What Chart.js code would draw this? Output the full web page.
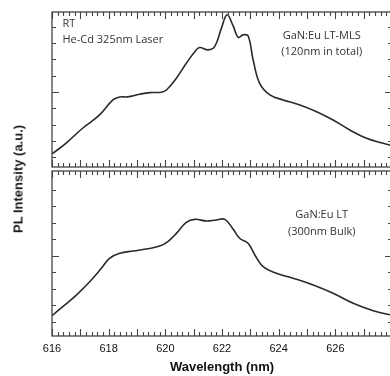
<!DOCTYPE html>
<html>
<head>
<meta charset="utf-8">
<script src="https://cdn.jsdelivr.net/npm/chart.js@4.4.1/dist/chart.umd.min.js"></script>
<style>
  html, body { margin: 0; padding: 0; background: #fff; overflow: hidden; }
  #wrap { position: relative; width: 400px; height: 376px; }
  #topChart { position: absolute; left: 0; top: 0; }
  #bulkChart { position: absolute; left: 0; top: 169px; }
  #ytitle {
    position: absolute; left: 18px; top: 179px;
    transform: translate(-50%, -50%) rotate(-90deg);
    font: bold 13px "Liberation Sans", Arial, sans-serif; color: #1a1a1a; white-space: nowrap;
  }
</style>
</head>
<body>
<div id="wrap">
  <canvas id="topChart" width="400" height="169"></canvas>
  <canvas id="bulkChart" width="400" height="207"></canvas>
  <div id="ytitle">PL Intensity (a.u.)</div>
</div>
<script>
// wavelength (nm) / PL intensity (a.u.)
const mlsWavelength = [616.0, 616.5, 617.09, 617.68, 618.15, 618.39, 618.67, 619.09, 619.45, 619.86, 620.04,
  620.39, 620.74, 621.04, 621.21, 621.51, 621.74, 621.98, 622.18, 622.39, 622.57, 622.74, 622.92,
  623.1, 623.33, 623.69, 624.16, 624.75, 625.34, 625.92, 626.51, 627.1, 627.69, 628.0];
const mlsIntensity = [0.80, 1.47, 2.39, 3.19, 4.11, 4.29, 4.30, 4.46, 4.56, 4.58, 4.72,
  5.44, 6.36, 7.07, 7.32, 7.18, 7.38, 8.51, 9.33, 8.66, 7.94, 8.10, 8.04,
  6.56, 5.13, 4.42, 4.11, 3.80, 3.39, 2.88, 2.27, 1.76, 1.45, 1.32];

const bulkWavelength = [616.0, 616.38, 616.86, 617.33, 617.74, 618.03, 618.39, 618.86, 619.33, 619.8, 620.09,
  620.39, 620.74, 621.04, 621.45, 621.8, 622.1, 622.39, 622.63, 622.92, 623.16, 623.45, 623.92,
  624.51, 625.22, 625.92, 626.63, 627.34, 628.0];
const bulkIntensity = [1.23, 1.78, 2.48, 3.29, 4.10, 4.71, 5.01, 5.15, 5.27, 5.45, 5.72,
  6.22, 6.89, 7.07, 6.97, 7.03, 7.07, 6.48, 5.91, 5.62, 4.91, 4.20, 3.80,
  3.50, 3.09, 2.59, 1.98, 1.53, 1.25];

const xLabels = [616, 618, 620, 622, 624, 626];
const mlsTicks = [0.6, 1.6, 2.6, 3.6, 4.6, 5.6, 6.6, 7.6, 8.6];
const bulkTicks = [0.87, 1.87, 2.87, 3.87, 4.87, 5.87, 6.87, 7.87, 8.87];

// frame + inward ticks on all four sides
const frameTicks = {
  id: 'frameTicks',
  afterDatasetsDraw(chart, args, opts) {
    const { ctx, chartArea: a, scales: { x, y } } = chart;
    ctx.save();
    ctx.strokeStyle = '#444';
    ctx.lineWidth = 1.3;
    ctx.strokeRect(a.left, a.top, a.right - a.left, a.bottom - a.top);
    ctx.lineWidth = 1.1;
    ctx.beginPath();
    for (let i = 0; i <= 60; i++) {
      const px = Math.round(x.getPixelForValue(616 + i * 0.2)) + 0.5;
      const len = i % 5 === 0 ? 7 : 4;
      ctx.moveTo(px, a.top); ctx.lineTo(px, a.top + len);
      ctx.moveTo(px, a.bottom); ctx.lineTo(px, a.bottom - len);
    }
    opts.yTicks.forEach((v, i) => {
      const py = Math.round(y.getPixelForValue(v)) + 0.5;
      const len = i === 4 ? 7 : 4;
      ctx.moveTo(a.left, py); ctx.lineTo(a.left + len, py);
      ctx.moveTo(a.right, py); ctx.lineTo(a.right - len, py);
    });
    ctx.stroke();
    ctx.restore();
  }
};

const notes = {
  id: 'notes',
  afterDatasetsDraw(chart, args, opts) {
    const { ctx, scales: { x, y } } = chart;
    ctx.save();
    ctx.fillStyle = '#333';
    ctx.font = '11px "Open Sans", sans-serif';
    ctx.textBaseline = 'middle';
    opts.items.forEach(n => {
      ctx.textAlign = n.align;
      ctx.fillText(n.text, x.getPixelForValue(n.x), y.getPixelForValue(n.y));
    });
    ctx.restore();
  }
};

function lineData(wl, inten) {
  return {
    datasets: [{
      data: wl.map((w, i) => ({ x: w, y: inten[i] })),
      borderColor: '#2a2a2a',
      borderWidth: 1.6,
      pointRadius: 0,
      tension: 0.4,
      fill: false
    }]
  };
}

// upper panel: LT-MLS
new Chart(document.getElementById('topChart'), {
  type: 'line',
  data: lineData(mlsWavelength, mlsIntensity),
  options: {
    responsive: false,
    animation: false,
    layout: { padding: { left: 52, right: 8, top: 12, bottom: 2 } },
    scales: {
      x: { type: 'linear', min: 616, max: 628, display: false },
      y: { min: 0, max: 9.5, display: false }
    },
    plugins: {
      legend: { display: false },
      tooltip: { enabled: false },
      frameTicks: { yTicks: mlsTicks },
      notes: {
        items: [
          { text: 'RT', x: 616.37, y: 8.77, align: 'left' },
          { text: 'He-Cd 325nm Laser', x: 616.37, y: 7.79, align: 'left' },
          { text: 'GaN:Eu LT-MLS', x: 625.52, y: 8.04, align: 'center' },
          { text: '(120nm in total)', x: 625.52, y: 7.06, align: 'center' }
        ]
      }
    }
  },
  plugins: [frameTicks, notes]
});

// lower panel: LT bulk
new Chart(document.getElementById('bulkChart'), {
  type: 'line',
  data: lineData(bulkWavelength, bulkIntensity),
  options: {
    responsive: false,
    animation: false,
    layout: { padding: { left: 52, right: 8, top: 2, bottom: 0 } },
    scales: {
      x: {
        type: 'linear', min: 616, max: 628,
        afterBuildTicks: s => { s.ticks = xLabels.map(v => ({ value: v })); },
        afterFit: s => { s.height = 40; },
        grid: { display: false, drawTicks: false },
        border: { display: false },
        ticks: {
          padding: 6, color: '#111', maxRotation: 0, autoSkip: false,
          font: { family: '"Liberation Sans", Arial, sans-serif', size: 11 }
        },
        title: {
          display: true, text: 'Wavelength (nm)', color: '#111',
          font: { family: '"Liberation Sans", Arial, sans-serif', size: 13, weight: 'bold' },
          padding: { top: 0, bottom: 1 }
        }
      },
      y: { min: 0, max: 10, display: false }
    },
    plugins: {
      legend: { display: false },
      tooltip: { enabled: false },
      frameTicks: { yTicks: bulkTicks },
      notes: {
        items: [
          { text: 'GaN:Eu LT', x: 625.52, y: 7.33, align: 'center' },
          { text: '(300nm Bulk)', x: 625.52, y: 6.30, align: 'center' }
        ]
      }
    }
  },
  plugins: [frameTicks, notes]
});
</script>
</body>
</html>
